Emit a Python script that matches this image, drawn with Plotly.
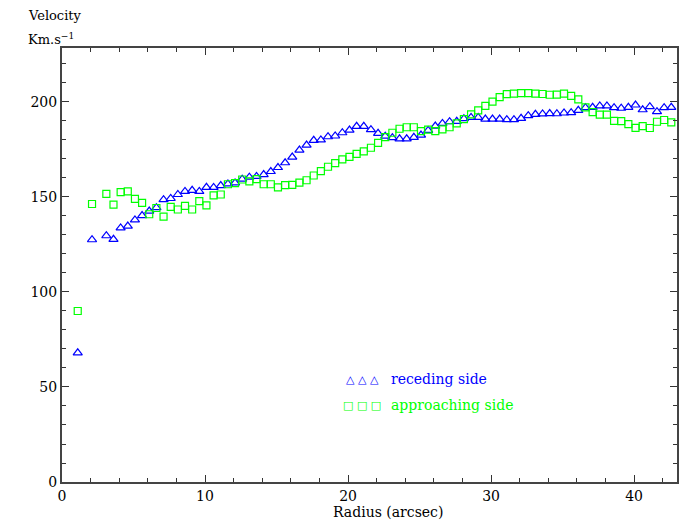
import plotly.graph_objects as go

radius = [1.1, 2.1, 3.1, 3.6, 4.1, 4.6, 5.1, 5.6, 6.1, 6.6, 7.1, 7.6, 8.1, 8.6, 9.1, 9.6,
          10.1, 10.6, 11.1, 11.6, 12.1, 12.6, 13.1, 13.6, 14.1, 14.6, 15.1, 15.6, 16.1, 16.6,
          17.1, 17.6, 18.1, 18.6, 19.1, 19.6, 20.1, 20.6, 21.1, 21.6, 22.1, 22.6, 23.1, 23.6,
          24.1, 24.6, 25.1, 25.6, 26.1, 26.6, 27.1, 27.6, 28.1, 28.6, 29.1, 29.6, 30.1, 30.6,
          31.1, 31.6, 32.1, 32.6, 33.1, 33.6, 34.1, 34.6, 35.1, 35.6, 36.1, 36.6, 37.1, 37.6,
          38.1, 38.6, 39.1, 39.6, 40.1, 40.6, 41.1, 41.6, 42.1, 42.6]

receding = [68.0, 127.5, 129.6, 127.7, 133.7, 134.7, 137.9, 140.2, 142.6, 144.4, 148.6, 149.2,
            151.3, 152.9, 153.5, 152.9, 155.1, 155.0, 156.0, 156.9, 157.4, 159.4, 160.4, 160.8,
            161.8, 163.4, 165.5, 168.0, 171.0, 174.7, 177.3, 179.8, 180.0, 181.7, 182.1, 183.8,
            185.2, 187.2, 187.2, 185.4, 183.5, 182.0, 181.2, 180.6, 180.6, 181.4, 182.6, 185.0,
            187.3, 188.7, 189.6, 189.8, 191.2, 191.9, 191.9, 191.0, 191.0, 191.0, 190.7, 190.7,
            191.4, 192.8, 193.5, 193.7, 193.9, 193.8, 194.2, 194.4, 195.6, 197.0, 197.2, 197.9,
            197.9, 197.0, 196.7, 197.2, 198.4, 195.9, 197.5, 194.9, 197.0, 197.2]

approaching = [90.0, 146.3, 151.6, 146.0, 152.5, 152.9, 149.0, 146.9, 140.9, 144.2, 139.7, 144.8,
               143.4, 145.3, 143.4, 147.8, 145.6, 150.8, 151.3, 156.7, 157.3, 159.2, 158.2, 159.4,
               156.7, 156.7, 155.1, 156.2, 156.4, 157.6, 158.8, 161.3, 163.6, 165.9, 167.8, 169.8,
               171.1, 172.7, 174.0, 175.9, 178.5, 181.5, 183.8, 185.9, 186.7, 186.7, 184.7, 185.4,
               184.7, 185.6, 186.7, 188.7, 191.0, 193.5, 195.6, 197.9, 200.2, 202.5, 204.1, 204.4,
               204.7, 204.7, 204.4, 204.2, 203.8, 203.9, 204.4, 203.2, 201.4, 197.2, 194.7, 193.3,
               193.3, 190.1, 189.9, 188.3, 186.4, 187.3, 186.3, 189.6, 190.5, 189.3]

x_ticks = [0, 10, 20, 30, 40]
y_ticks = [0, 50, 100, 150, 200]

BLUE = "#0000ff"
GREEN = "#00ff00"
FONT = "DejaVu Serif"

fig = go.Figure()
fig.add_trace(go.Scatter(x=radius, y=receding, mode="markers", name="receding side",
                         marker=dict(symbol="triangle-up-open", size=8, color=BLUE,
                                     line=dict(width=1.2, color=BLUE))))
fig.add_trace(go.Scatter(x=radius, y=approaching, mode="markers", name="approaching side",
                         marker=dict(symbol="square-open", size=7, color=GREEN,
                                     line=dict(width=1.2, color=GREEN))))

axis_common = dict(showgrid=False, zeroline=False, showline=True, linecolor="#444444",
                   linewidth=2, mirror="ticks", ticks="inside", ticklen=7, tickwidth=1,
                   tickcolor="#333333",
                   tickfont=dict(family=FONT, size=14, color="black"))

fig.update_xaxes(range=[0, 43], tickvals=x_ticks, ticktext=[str(v) for v in x_ticks],
                 minor=dict(dtick=2, tick0=0, ticks="inside", ticklen=4, tickcolor="#333333"),
                 **axis_common)
fig.update_yaxes(range=[0, 228.4], tickvals=y_ticks, ticktext=[str(v) for v in y_ticks],
                 minor=dict(dtick=10, tick0=0, ticks="inside", ticklen=4, tickcolor="#333333"),
                 **axis_common)

annots = [
    dict(text="Velocity", x=-0.058, y=1.076, xanchor="left", yanchor="middle",
         font=dict(family=FONT, size=13, color="black")),
    dict(text="Km.s<sup>−1</sup>", x=-0.058, y=1.02, xanchor="left", yanchor="middle",
         font=dict(family=FONT, size=13, color="black")),
    dict(text="Radius (arcsec)", x=0.53, y=-0.069, xanchor="center", yanchor="middle",
         font=dict(family=FONT, size=14, color="black")),
    dict(text="△ △ △", x=0.488, y=0.237, xanchor="center", yanchor="middle",
         font=dict(family=FONT, size=11, color=BLUE)),
    dict(text="receding side", x=0.532, y=0.237, xanchor="left", yanchor="middle",
         font=dict(family=FONT, size=14, color=BLUE)),
    dict(text="□ □ □", x=0.488, y=0.177, xanchor="center", yanchor="middle",
         font=dict(family=FONT, size=11, color=GREEN)),
    dict(text="approaching side", x=0.532, y=0.177, xanchor="left", yanchor="middle",
         font=dict(family=FONT, size=14, color=GREEN)),
]
for a in annots:
    fig.add_annotation(xref="paper", yref="paper", showarrow=False, **a)

fig.update_layout(width=691, height=522, showlegend=False,
                  margin=dict(l=62, r=14, t=48, b=40),
                  paper_bgcolor="white", plot_bgcolor="white")

fig.write_html("out.html", config={"displayModeBar": False},
               post_script="document.body.style.margin='0';document.body.style.overflow='hidden';")
